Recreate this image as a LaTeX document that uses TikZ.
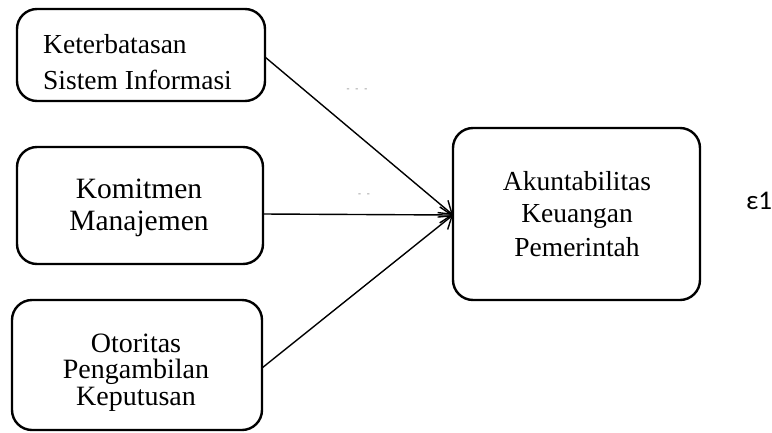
\documentclass[tikz,border=0pt]{standalone}
\usepackage{fontspec}
\setmainfont{Liberation Serif}
\newfontfamily\epsfont{Carlito}
\usetikzlibrary{arrows.meta}
\begin{document}
\begin{tikzpicture}[x=1pt,y=-1pt,
  box/.style={draw, line width=2.4pt, rounded corners=20pt, inner sep=0pt, outer sep=0pt},
  lbl/.style={inner sep=0pt, anchor=base},
  conn/.style={line width=1.4pt, -{Straight Barb[length=12pt,width=16pt,line width=1.4pt]}},
  dots/.style={inner sep=0pt, text=gray, font=\fontsize{9}{9}\selectfont}]
\fill[white] (0,0) rectangle (772,432);
\useasboundingbox (0,0) rectangle (772,432);
\clip (0,0) rectangle (772,432);

\node[box, minimum width=248pt, minimum height=92pt] (b1) at (141,55) {};
\node[box, minimum width=246pt, minimum height=117pt] (b2) at (140,205.5) {};
\node[box, minimum width=250pt, minimum height=130pt] (b3) at (137,365) {};
\node[box, minimum width=247pt, minimum height=172pt] (b4) at (576.5,214) {};

\begin{scope}[font=\fontsize{27.5}{27.5}\selectfont]
\node[lbl, anchor=base west] (t1a) at (43,53) {Keterbatasan};
\node[lbl, anchor=base west] (t1b) at (43,89) {Sistem Informasi};
\end{scope}
\begin{scope}[font=\fontsize{29.5}{29.5}\selectfont]
\node[lbl] (t2a) at (139,198) {Komitmen};
\node[lbl] (t2b) at (139,230) {Manajemen};
\end{scope}
\begin{scope}[font=\fontsize{28}{28}\selectfont]
\node[lbl] (t3a) at (136,352) {Otoritas};
\node[lbl] (t3b) at (136,378) {Pengambilan};
\node[lbl] (t3c) at (136,405) {Keputusan};
\end{scope}
\begin{scope}[font=\fontsize{27.5}{27.5}\selectfont]
\node[lbl] (t4a) at (577,190) {Akuntabilitas};
\node[lbl] (t4b) at (577,222) {Keuangan};
\node[lbl] (t4c) at (577,256) {Pemerintah};
\end{scope}

\node[inner sep=0pt, font=\epsfont\fontsize{27}{27}\selectfont] (eps) at (759,201) {ε1};

\node[dots] (d1) at (357,90) {-\hspace{6pt}-\hspace{6pt}-};
\node[dots] (d2) at (364,195) {-\hspace{6pt}-};

\draw[conn] ([yshift=-2pt]b1.east) -- ([yshift=-1pt]b4.west);
\draw[conn] ([yshift=-8.5pt]b2.east) -- ([yshift=-1pt]b4.west);
\draw[conn] ([yshift=-3pt]b3.east) -- ([yshift=-1pt]b4.west);
\end{tikzpicture}
\end{document}
